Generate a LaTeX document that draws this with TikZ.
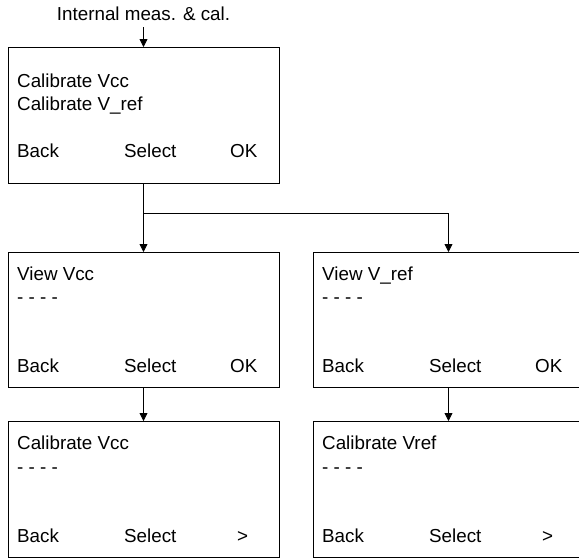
\documentclass[tikz,border=0pt]{standalone}
\usepackage{fontspec}
\setmainfont{Liberation Sans}
\usetikzlibrary{arrows.meta}
\begin{document}
\begin{tikzpicture}[x=1pt,y=-1pt,
  screen/.style={draw=black,line width=0.9pt,fill=white},
  lbl/.style={anchor=base west,inner sep=0pt,font=\fontsize{18.8}{22}\selectfont},
  conn/.style={line width=0.8pt,-{Triangle[width=8pt,length=8pt]}}]
\useasboundingbox (0,0) rectangle (579,558);
\begin{scope}
\clip (0,0) rectangle (579,558);
% boxes
\draw[screen] (8,47) rectangle (279,183);
\draw[screen] (8,252) rectangle (279,387);
\draw[screen] (313,252) rectangle (584,387);
\draw[screen] (8,421) rectangle (279,557);
\draw[screen] (313,421) rectangle (584,557);
\end{scope}
\coordinate (topB) at (143.5,47);
\coordinate (topBot) at (143.5,183);
\coordinate (mlT) at (143.5,252);
\coordinate (mlB) at (143.5,387);
\coordinate (mrT) at (448.5,252);
\coordinate (mrB) at (448.5,387);
\coordinate (blT) at (143.5,421);
\coordinate (brT) at (448.5,421);
\node[anchor=base,inner sep=0pt,font=\fontsize{18.8}{22}\selectfont] (intl) at (143.5,20) {Internal meas. \& cal.};
% top box text
\node[lbl] (t1) at (17,87) {Calibrate Vcc};
\node[lbl] (t2) at (17,110) {Calibrate V\_ref};
\node[lbl] (t3) at (17,157) {Back};
\node[lbl] (t4) at (124,157) {Select};
\node[lbl] (t5) at (230,157) {OK};
% middle left
\node[lbl] (a1) at (17,280) {View Vcc};
\node[lbl] (a2) at (17,303) {- - - -};
\node[lbl] (a3) at (17,372) {Back};
\node[lbl] (a4) at (124,372) {Select};
\node[lbl] (a5) at (230,372) {OK};
% middle right
\node[lbl] (b1) at (322,280) {View V\_ref};
\node[lbl] (b2) at (322,303) {- - - -};
\node[lbl] (b3) at (322,372) {Back};
\node[lbl] (b4) at (429,372) {Select};
\node[lbl] (b5) at (535,372) {OK};
% bottom left
\node[lbl] (c1) at (17,449) {Calibrate Vcc};
\node[lbl] (c2) at (17,473) {- - - -};
\node[lbl] (c3) at (17,542) {Back};
\node[lbl] (c4) at (124,542) {Select};
\node[lbl] (c5) at (237,542) {>};
% bottom right
\node[lbl] (d1) at (322,449) {Calibrate Vref};
\node[lbl] (d2) at (322,473) {- - - -};
\node[lbl] (d3) at (322,542) {Back};
\node[lbl] (d4) at (429,542) {Select};
\node[lbl] (d5) at (542,542) {>};
% connectors
\draw[conn] (143.5,27) -- (topB);
\draw[conn] (topBot) -- (mlT);
\draw[conn] (topBot) ++(0,30) -| (mrT);
\draw[conn] (mlB) -- (blT);
\draw[conn] (mrB) -- (brT);
\end{tikzpicture}
\end{document}
